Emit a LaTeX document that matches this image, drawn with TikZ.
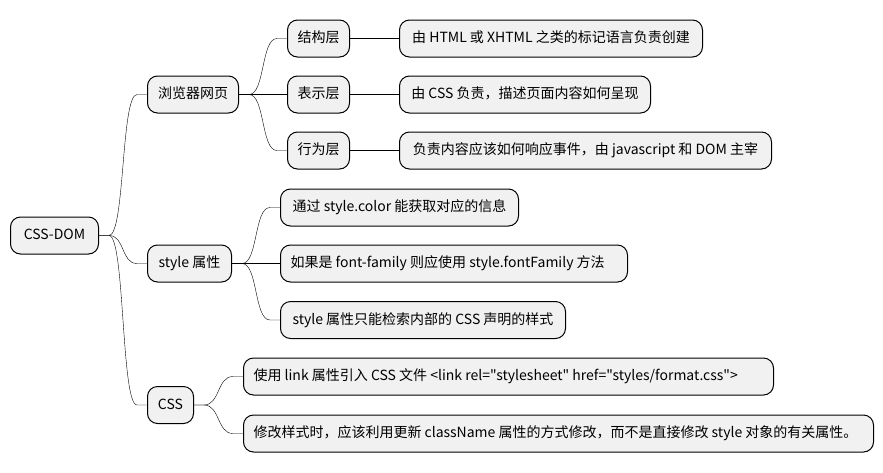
\documentclass[tikz,border=0pt]{standalone}
\usepackage{fontspec}
\setmainfont{Noto Sans CJK SC}[Ligatures=TeXOff]
\usetikzlibrary{calc}
\definecolor{boxfill}{HTML}{F1F1F1}
\begin{document}
\begin{tikzpicture}[x=1pt,y=-1pt,
  box/.style={draw=black,line width=1pt,fill=boxfill,rounded corners=10pt,
    anchor=west,minimum height=37pt,inner xsep=10pt,inner ysep=0pt,
    text height=11pt,text depth=3pt,font=\fontsize{14pt}{16pt}\selectfont},
  conn/.style={line width=0.9pt,to path={-- ++(10,0) .. controls +(16,0) and +(-16,0) .. ($(\tikztotarget.west)+(-10,0)$) -- (\tikztotarget.west)}}]
\useasboundingbox[fill=white] (0,0) rectangle (883,472);
% level 0
\node[box,minimum width=88pt] (root) at (10,235.5) {CSS-DOM};
% level 1
\node[box,minimum width=91pt] (web) at (147,94.5) {浏览器网页};
\node[box,minimum width=84pt] (sty) at (147,263.5) {style 属性};
\node[box,minimum width=46pt] (css) at (147,405) {CSS};
% level 2 (web)
\node[box,minimum width=62pt] (jg) at (287,38.5) {结构层};
\node[box,minimum width=62pt] (bs) at (287,94.5) {表示层};
\node[box,minimum width=62pt] (xw) at (287,150.5) {行为层};
% leaves (web)
\node[box,minimum width=303pt] (l1) at (399,38.5) {由 HTML 或 XHTML 之类的标记语言负责创建};
\node[box,minimum width=251pt] (l2) at (399,94.5) {由 CSS 负责，描述页面内容如何呈现};
\node[box,minimum width=372pt] (l3) at (399,150.5) {负责内容应该如何响应事件，由 javascript 和 DOM 主宰};
% style children
\node[box,minimum width=238pt] (s1) at (280,207.5) {通过 style.color 能获取对应的信息};
\node[box] (s2) at (280,263.5) {\makebox[327pt][l]{如果是 font-family 则应使用 style.fontFamily 方法}};
\node[box,minimum width=285pt] (s3) at (280,320) {style 属性只能检索内部的 CSS 声明的样式};
% css children
\node[box] (c1) at (243,376.5) {\makebox[510pt][l]{使用 link 属性引入 CSS 文件 <link rel="stylesheet" href="styles/format.css">}};
\node[box] (c2) at (243,433.5) {\makebox[610pt][l]{修改样式时，应该利用更新 className 属性的方式修改，而不是直接修改 style 对象的有关属性。}};
% connectors
\draw (root.east) to[conn] (web);
\draw (root.east) to[conn] (sty);
\draw (root.east) to[conn] (css);
\draw (web.east) to[conn] (jg);
\draw (web.east) to[conn] (bs);
\draw (web.east) to[conn] (xw);
\draw (jg.east) -- (l1.west);
\draw (bs.east) -- (l2.west);
\draw (xw.east) -- (l3.west);
\draw (sty.east) to[conn] (s1);
\draw (sty.east) to[conn] (s2);
\draw (sty.east) to[conn] (s3);
\draw (css.east) to[conn] (c1);
\draw (css.east) to[conn] (c2);
\end{tikzpicture}
\end{document}
